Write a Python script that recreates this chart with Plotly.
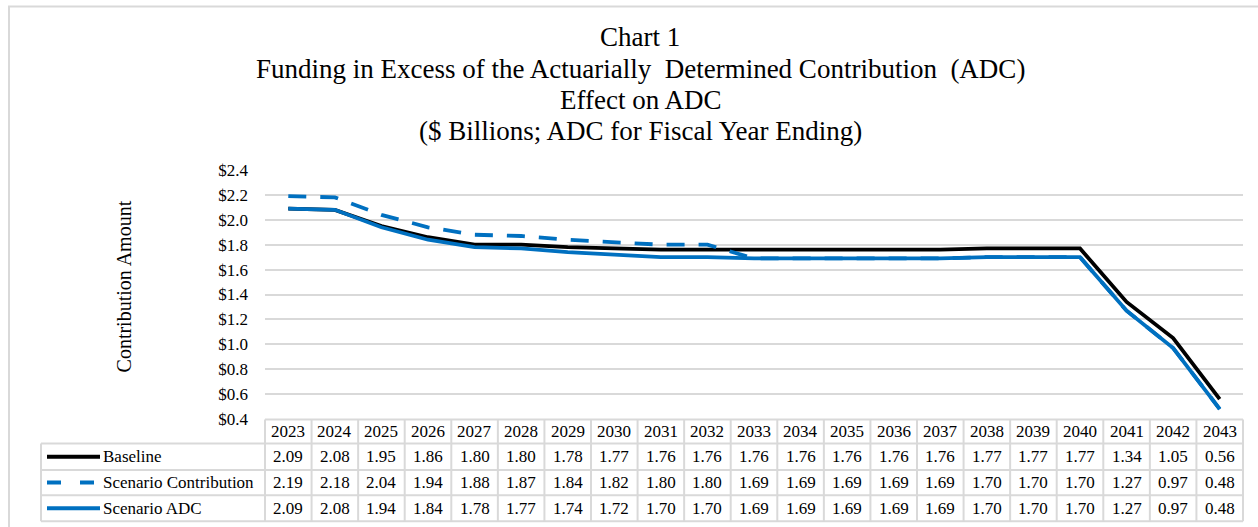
import plotly.graph_objects as go

# ---- data -------------------------------------------------------------
years = [2023, 2024, 2025, 2026, 2027, 2028, 2029, 2030, 2031, 2032, 2033,
         2034, 2035, 2036, 2037, 2038, 2039, 2040, 2041, 2042, 2043]
baseline = [2.09, 2.08, 1.95, 1.86, 1.80, 1.80, 1.78, 1.77, 1.76, 1.76, 1.76,
            1.76, 1.76, 1.76, 1.76, 1.77, 1.77, 1.77, 1.34, 1.05, 0.56]
scenario_contribution = [2.19, 2.18, 2.04, 1.94, 1.88, 1.87, 1.84, 1.82, 1.80, 1.80, 1.69,
                         1.69, 1.69, 1.69, 1.69, 1.70, 1.70, 1.70, 1.27, 0.97, 0.48]
scenario_adc = [2.09, 2.08, 1.94, 1.84, 1.78, 1.77, 1.74, 1.72, 1.70, 1.70, 1.69,
                1.69, 1.69, 1.69, 1.69, 1.70, 1.70, 1.70, 1.27, 0.97, 0.48]
series_names = ["Baseline", "Scenario Contribution", "Scenario ADC"]
y_ticks = [0.4, 0.6, 0.8, 1.0, 1.2, 1.4, 1.6, 1.8, 2.0, 2.2, 2.4]
title_lines = [
    "Chart 1",
    "Funding in Excess of the Actuarially  Determined Contribution  (ADC)",
    "Effect on ADC",
    "($ Billions; ADC for Fiscal Year Ending)",
]

# ---- styling / geometry ----------------------------------------------
W, H = 1258, 527
PLOT_L, PLOT_R = 265, 1243
PLOT_T, PLOT_B = 169.5, 418.6
FONT = "Liberation Serif"
GRID = "#d9d9d9"
BLUE = "#0070c0"
styles = [
    dict(color="black", width=3.8, dash="solid"),
    dict(color=BLUE, width=3.8, dash="18px,14px"),
    dict(color=BLUE, width=3.8, dash="solid"),
]


def px_x(x):
    return (x - PLOT_L) / (PLOT_R - PLOT_L)


def px_y(y):
    return (PLOT_B - y) / (PLOT_B - PLOT_T)


n = len(years)
idx = list(range(n))
col_w = (PLOT_R - PLOT_L) / n

fig = go.Figure()
for name, vals, st in zip(series_names, [baseline, scenario_contribution, scenario_adc], styles):
    fig.add_trace(go.Scatter(x=idx, y=vals, mode="lines", name=name,
                             line=dict(color=st["color"], width=st["width"], dash=st["dash"]),
                             showlegend=False))

shapes = []
annotations = []

# outer chart border
shapes.append(dict(type="rect", xref="paper", yref="paper",
                   x0=px_x(9), x1=px_x(W + 20), y0=px_y(6), y1=px_y(H + 20),
                   line=dict(color=GRID, width=2), fillcolor="rgba(0,0,0,0)", layer="below"))

# data table grid
row_edges = [419, 443, 469.5, 495, 521]
LEG_L = 41
line_st = dict(color=GRID, width=2)
shapes.append(dict(type="line", xref="paper", yref="paper", x0=px_x(PLOT_L), x1=px_x(PLOT_R),
                   y0=px_y(row_edges[0]), y1=px_y(row_edges[0]), line=line_st))
for ry in row_edges[1:]:
    shapes.append(dict(type="line", xref="paper", yref="paper", x0=px_x(LEG_L), x1=px_x(PLOT_R),
                       y0=px_y(ry), y1=px_y(ry), line=line_st))
shapes.append(dict(type="line", xref="paper", yref="paper", x0=px_x(LEG_L), x1=px_x(LEG_L),
                   y0=px_y(row_edges[1]), y1=px_y(row_edges[-1]), line=line_st))
for i in range(n + 1):
    xx = PLOT_L + i * col_w
    shapes.append(dict(type="line", xref="paper", yref="paper", x0=px_x(xx), x1=px_x(xx),
                       y0=px_y(row_edges[0]), y1=px_y(row_edges[-1]), line=line_st))

cell_font = dict(family=FONT, size=17, color="black")
hy = (row_edges[0] + row_edges[1]) / 2
for i, yr in enumerate(years):
    annotations.append(dict(xref="paper", yref="paper", x=px_x(PLOT_L + (i + 0.5) * col_w),
                            y=px_y(hy), text=str(yr), showarrow=False, font=cell_font,
                            xanchor="center", yanchor="middle"))
for r, (name, vals, st) in enumerate(zip(series_names,
                                         [baseline, scenario_contribution, scenario_adc], styles)):
    cy = (row_edges[r + 1] + row_edges[r + 2]) / 2
    leg_dash = "14px,19px" if st["dash"] != "solid" else "solid"
    shapes.append(dict(type="line", xref="paper", yref="paper", x0=px_x(47), x1=px_x(100),
                       y0=px_y(cy), y1=px_y(cy),
                       line=dict(color=st["color"], width=4, dash=leg_dash)))
    annotations.append(dict(xref="paper", yref="paper", x=px_x(101), y=px_y(cy), text=name,
                            showarrow=False, font=cell_font, xanchor="left", yanchor="middle"))
    for i, v in enumerate(vals):
        annotations.append(dict(xref="paper", yref="paper", x=px_x(PLOT_L + (i + 0.5) * col_w),
                                y=px_y(cy), text=f"{v:.2f}", showarrow=False, font=cell_font,
                                xanchor="center", yanchor="middle"))

title_y = [36, 68, 99, 130]
for txt, ty in zip(title_lines, title_y):
    annotations.append(dict(xref="paper", yref="paper", x=px_x(640), y=px_y(ty), text=txt,
                            showarrow=False, font=dict(family=FONT, size=27, color="black"),
                            xanchor="center", yanchor="middle"))

annotations.append(dict(xref="paper", yref="paper", x=px_x(124), y=px_y(286),
                        text="Contribution Amount", textangle=-90, showarrow=False,
                        font=dict(family=FONT, size=20, color="black"),
                        xanchor="center", yanchor="middle"))

fig.update_layout(
    width=W, height=H, autosize=False,
    margin=dict(l=PLOT_L, r=W - PLOT_R, t=PLOT_T, b=H - PLOT_B, pad=0),
    paper_bgcolor="white", plot_bgcolor="white",
    showlegend=False,
    shapes=shapes, annotations=annotations,
    xaxis=dict(range=[-0.5, n - 0.5], showticklabels=False, showgrid=False,
               zeroline=False, showline=False, fixedrange=True),
    yaxis=dict(range=[0.4, 2.4], tickvals=y_ticks,
               ticktext=[f"${v:.1f}" for v in y_ticks],
               showgrid=True, gridcolor=GRID, gridwidth=2, zeroline=False, showline=False,
               ticks="", ticklabelstandoff=16,
               tickfont=dict(family=FONT, size=17, color="black"), fixedrange=True),
)

fig.write_html("out.html")
